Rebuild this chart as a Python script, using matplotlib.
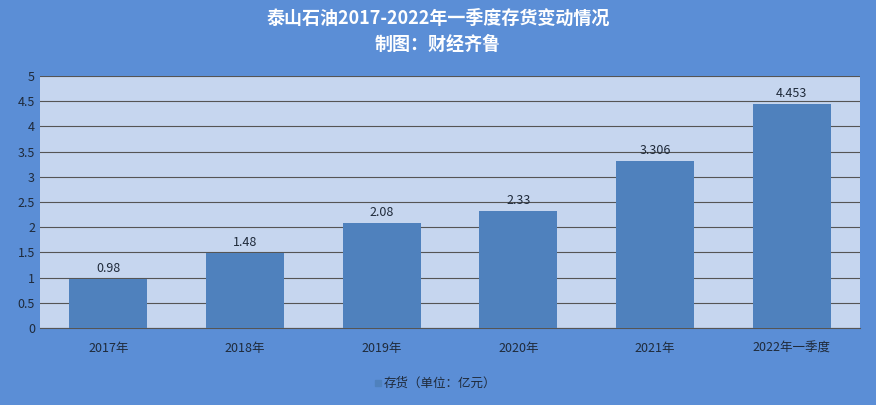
import matplotlib.pyplot as plt

plt.rcParams['font.family'] = ['Noto Sans CJK SC', 'DejaVu Sans']

years = ['2017年', '2018年', '2019年', '2020年', '2021年', '2022年一季度']
stock = [0.98, 1.48, 2.08, 2.33, 3.306, 4.453]
labels = ['0.98', '1.48', '2.08', '2.33', '3.306', '4.453']

fig = plt.figure(figsize=(8.76, 4.05), dpi=100, facecolor='#5B8ED6')
ax = fig.add_axes([40 / 876, 1 - 328 / 405, 820 / 876, 252 / 405])
ax.set_facecolor('#C6D6EF')

x = range(len(years))
bars = ax.bar(x, stock, width=0.57, color='#4F81BD', zorder=3)
for b, t in zip(bars, labels):
    ax.text(b.get_x() + b.get_width() / 2, b.get_height() + 0.08, t,
            ha='center', va='bottom', fontsize=9, color='#1F2A3A')

ax.set_xlim(-0.5, 5.5)
ax.set_ylim(0, 5)
ax.set_yticks([0, 0.5, 1, 1.5, 2, 2.5, 3, 3.5, 4, 4.5, 5])
ax.set_yticklabels(['0', '0.5', '1', '1.5', '2', '2.5', '3', '3.5', '4', '4.5', '5'])
ax.set_xticks(list(x))
ax.set_xticklabels(years)
ax.tick_params(length=0, labelsize=9, colors='#1F2A3A')
ax.tick_params(axis='x', pad=10)
ax.grid(axis='y', color='#555555', linewidth=0.8, zorder=0)
for s in ax.spines.values():
    s.set_visible(False)
ax.spines['bottom'].set_visible(True)
ax.spines['bottom'].set_color('#555555')

fig.text(0.5, 0.955, '泰山石油2017-2022年一季度存货变动情况', ha='center', va='center',
         fontsize=13, fontweight='bold', color='white')
fig.text(0.5, 0.89, '制图：财经齐鲁', ha='center', va='center',
         fontsize=13, fontweight='bold', color='white')

fig.patches.append(plt.Rectangle((375 / 876, 1 - 386 / 405), 6 / 876, 6 / 405,
                                 transform=fig.transFigure, color='#4F81BD'))
fig.text(384 / 876, 1 - 383 / 405, '存货（单位：亿元）', ha='left', va='center',
         fontsize=9, color='#1F2A3A')

fig.savefig('out.png', dpi=100, facecolor=fig.get_facecolor())
